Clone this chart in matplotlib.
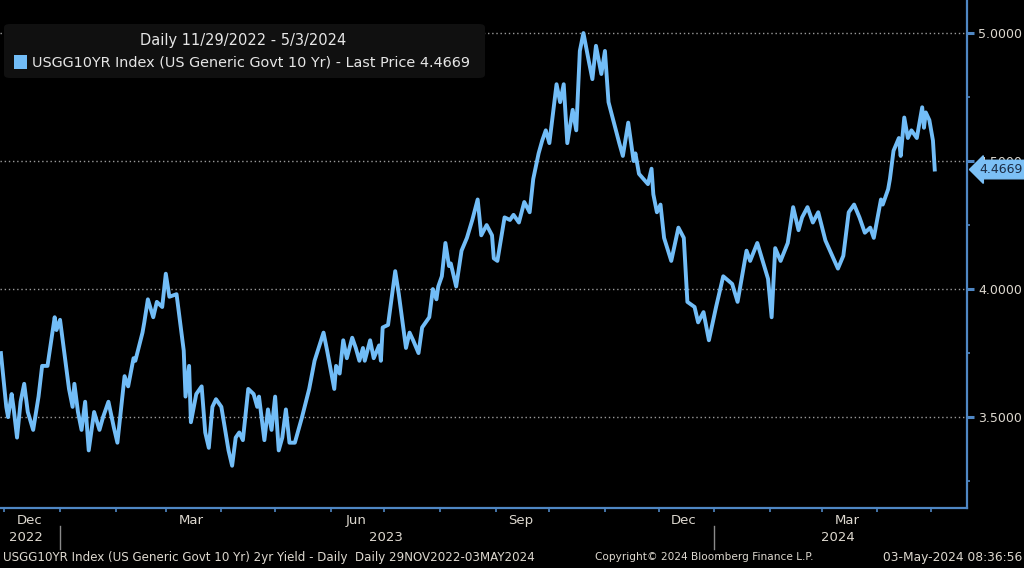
import matplotlib
matplotlib.use("Agg")
import matplotlib.pyplot as plt
import matplotlib.transforms as mtransforms
from matplotlib.patches import FancyBboxPatch, Rectangle
import pandas as pd

# USGG10YR daily (days after 2022-11-29)
start_date = "2022-11-29"
day_offset = [0, 3, 4, 6, 7, 9, 11, 13, 15, 18, 21, 23, 26, 30, 31, 33, 36, 38, 40, 41,
              43, 45, 47, 49, 52, 55, 57, 60, 63, 65, 69, 71, 74, 75, 79, 80, 82, 85, 87, 90,
              92, 94, 98, 102, 103, 105, 106, 109, 112, 114, 116, 118, 120, 123, 127, 129,
              131, 133, 135, 138, 141, 143, 144, 147, 149, 151, 153, 155, 157, 159, 161, 164,
              168, 172, 175, 180, 182, 186, 187, 189, 191, 193, 196, 198, 200, 202, 203, 206,
              208, 211, 212, 213, 216, 220, 222, 226, 228, 230, 233, 235, 237, 239, 241, 243,
              244, 246, 248, 250, 251, 254, 257, 260, 263, 266, 268, 271, 274, 275, 277, 281,
              284, 286, 289, 292, 295, 297, 300, 302, 304, 306, 310, 312, 314, 316, 319, 321,
              323, 325, 328, 330, 332, 335, 337, 339, 342, 345, 347, 350, 353, 354, 356, 361,
              363, 364, 366, 368, 370, 374, 378, 381, 383, 387, 389, 392, 395, 399, 403, 408,
              411, 416, 418, 422, 425, 428, 430, 432, 435, 439, 442, 445, 447, 450, 453, 456,
              460, 467, 470, 473, 476, 479, 482, 485, 487, 491, 492, 495, 496, 498, 501, 502,
              504, 506, 508, 511, 514, 515, 516, 518, 520, 521]
yld = [3.75, 3.54, 3.50, 3.59, 3.54, 3.42, 3.56, 3.63, 3.52, 3.45, 3.58, 3.70, 3.70, 3.89,
       3.84, 3.88, 3.72, 3.61, 3.54, 3.63, 3.52, 3.45, 3.56, 3.37, 3.52, 3.45, 3.50, 3.56,
       3.46, 3.40, 3.66, 3.62, 3.73, 3.72, 3.83, 3.87, 3.96, 3.89, 3.95, 3.93, 4.06, 3.97,
       3.98, 3.76, 3.58, 3.70, 3.48, 3.59, 3.62, 3.44, 3.38, 3.54, 3.57, 3.54, 3.37, 3.31,
       3.42, 3.44, 3.41, 3.61, 3.59, 3.54, 3.58, 3.41, 3.53, 3.45, 3.58, 3.37, 3.42, 3.53,
       3.40, 3.40, 3.50, 3.61, 3.72, 3.83, 3.76, 3.61, 3.70, 3.67, 3.80, 3.73, 3.81, 3.77,
       3.72, 3.77, 3.72, 3.80, 3.73, 3.78, 3.72, 3.85, 3.86, 4.07, 3.98, 3.77, 3.83, 3.80,
       3.75, 3.85, 3.87, 3.89, 4.00, 3.96, 4.01, 4.05, 4.18, 4.09, 4.10, 4.01, 4.15, 4.20,
       4.27, 4.35, 4.21, 4.25, 4.21, 4.12, 4.11, 4.28, 4.27, 4.29, 4.26, 4.34, 4.30, 4.43,
       4.53, 4.58, 4.62, 4.57, 4.80, 4.73, 4.80, 4.57, 4.70, 4.62, 4.93, 5.00, 4.89, 4.82,
       4.95, 4.84, 4.93, 4.73, 4.65, 4.57, 4.52, 4.65, 4.50, 4.53, 4.45, 4.41, 4.47, 4.37,
       4.30, 4.33, 4.20, 4.11, 4.24, 4.20, 3.95, 3.93, 3.87, 3.91, 3.80, 3.93, 4.05, 4.02,
       3.95, 4.15, 4.11, 4.18, 4.11, 4.04, 3.89, 4.16, 4.11, 4.18, 4.32, 4.23, 4.28, 4.32,
       4.26, 4.30, 4.19, 4.08, 4.13, 4.30, 4.33, 4.28, 4.22, 4.24, 4.20, 4.35, 4.33, 4.39,
       4.43, 4.54, 4.59, 4.52, 4.67, 4.59, 4.62, 4.59, 4.71, 4.63, 4.69, 4.66, 4.58, 4.4669]
last_price = 4.4669

month_label_dates = ["2022-12-15", "2023-03-15", "2023-06-15", "2023-09-15",
                     "2023-12-15", "2024-03-15"]
month_labels = ["Dec", "Mar", "Jun", "Sep", "Dec", "Mar"]
year_label_dates = ["2022-12-13", "2023-07-02", "2024-03-10"]
year_labels = ["2022", "2023", "2024"]
year_breaks = ["2023-01-01", "2024-01-01"]
y_ticks = [3.5, 4.0, 4.5, 5.0]
y_minor = [3.25, 3.75, 4.25, 4.75]

line_col = "#72bdf7"
spine_col = "#4f87c4"
text_col = "#ddd8cf"

dates = pd.Timestamp(start_date) + pd.to_timedelta(day_offset, unit="D")

fig = plt.figure(figsize=(10.24, 5.68), dpi=100, facecolor="black")
ax = fig.add_axes([0.0, 60 / 568, 967 / 1024, 508 / 568])
ax.set_facecolor("black")

ax.plot(dates, yld, color=line_col, lw=2.8, solid_joinstyle="round", zorder=3)

ax.set_xlim(pd.Timestamp("2022-11-28 12:00"), pd.Timestamp("2024-05-21"))
ax.set_ylim(3.145, 5.129)

for s in ["left", "top"]:
    ax.spines[s].set_visible(False)
for s in ["right", "bottom"]:
    ax.spines[s].set_color(spine_col)
    ax.spines[s].set_linewidth(1.6)

# y axis on the right
ax.yaxis.tick_right()
ax.set_yticks(y_ticks)
ax.set_yticklabels([f"{v:.4f}" for v in y_ticks])
ax.set_yticks(y_minor, minor=True)
ax.tick_params(axis="y", which="major", direction="out", length=5, width=2.2,
               color=spine_col, labelcolor=text_col, labelsize=9, pad=3)
ax.tick_params(axis="y", which="minor", direction="out", length=2.5, width=1.2,
               color=spine_col)
ax.grid(axis="y", which="major", color="#9a9a9a", linestyle=(0, (1, 2)), lw=1.0)

# x axis: month ticks at month starts, labels mid-month
ax.set_xticks(pd.to_datetime(month_label_dates))
ax.set_xticklabels(month_labels)
ax.set_xticks(pd.date_range("2022-12-01", "2024-05-01", freq="MS"), minor=True)
ax.tick_params(axis="x", which="major", length=0, labelcolor=text_col, labelsize=9.5, pad=4)
ax.tick_params(axis="x", which="minor", direction="out", length=3, width=1.2,
               color=spine_col)

trans = mtransforms.blended_transform_factory(ax.transData, ax.transAxes)
for d, lab in zip(pd.to_datetime(year_label_dates), year_labels):
    ax.text(d, -0.058, lab, transform=trans, ha="center", va="center",
            color=text_col, fontsize=9.5)
for d in pd.to_datetime(year_breaks):
    ax.plot([d, d], [-0.036, -0.08], transform=trans, color="#8a8a8a", lw=1,
            clip_on=False)

# last price tag
ax.annotate(f"{last_price:.4f}", xy=(1.0, last_price),
            xycoords=("axes fraction", "data"), xytext=(9, 0),
            textcoords="offset points", ha="left", va="center", fontsize=9,
            color="#1b2c44", zorder=6, annotation_clip=False,
            bbox=dict(boxstyle="larrow,pad=0.22", fc="#7cc0f5", ec="#7cc0f5"))

# legend box
fig.patches.append(FancyBboxPatch((4 / 1024, 490 / 568), 481 / 1024, 54 / 568,
                                  boxstyle="round,pad=0,rounding_size=0.006",
                                  transform=fig.transFigure, fc="#101010", ec="none",
                                  zorder=5))
fig.text(243 / 1024, 527 / 568, "Daily 11/29/2022 - 5/3/2024", ha="center",
         va="center", color="#e6e6e6", fontsize=10.5, zorder=6)
fig.patches.append(Rectangle((14 / 1024, 499 / 568), 13 / 1024, 14 / 568,
                             transform=fig.transFigure, fc=line_col, ec="none",
                             zorder=6))
fig.text(32 / 1024, 506 / 568,
         "USGG10YR Index (US Generic Govt 10 Yr) - Last Price 4.4669",
         ha="left", va="center", color="#e6e6e6", fontsize=10.4, zorder=6)

# footer
fig.text(3 / 1024, 11 / 568,
         "USGG10YR Index (US Generic Govt 10 Yr) 2yr Yield - Daily  Daily 29NOV2022-03MAY2024",
         ha="left", va="center", color=text_col, fontsize=8.6)
fig.text(595 / 1024, 11 / 568, "Copyright\u00a9 2024 Bloomberg Finance L.P.",
         ha="left", va="center", color=text_col, fontsize=7.6)
fig.text(1022 / 1024, 11 / 568, "03-May-2024 08:36:56", ha="right", va="center",
         color=text_col, fontsize=8.8)

fig.savefig("out.png", dpi=100, facecolor="black")
plt.close(fig)
